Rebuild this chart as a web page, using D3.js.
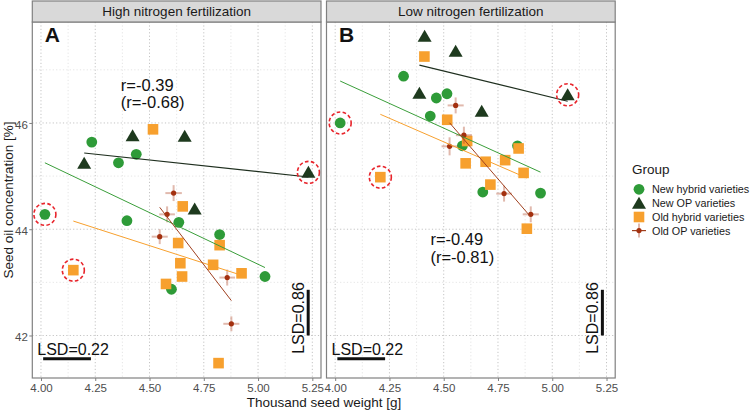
<!DOCTYPE html>
<html><head><meta charset="utf-8">
<script src="https://cdn.jsdelivr.net/npm/d3@7"></script>
<style>body{margin:0;background:#fff} svg{display:block} text{font-family:"Liberation Sans",Arial,Helvetica,sans-serif}</style>
</head><body><svg id="chart" width="752" height="412"></svg>
<script>
// ---------- data ----------
const xTicks = [4.00, 4.25, 4.50, 4.75, 5.00, 5.25];
const xMinor = [4.125, 4.375, 4.625, 4.875, 5.125];
const yTicks = [42, 44, 46];
const yMinor = [43, 45, 47];
const panelTitles = ["High nitrogen fertilization", "Low nitrogen fertilization"];
const panelLetters = ["A", "B"];
const groups = ["New hybrid varieties", "New OP varieties", "Old hybrid varieties", "Old OP varieties"];

// High nitrogen (panel A)
const highNewHybridTSW = [4.234, 4.439, 4.357, 4.018, 4.396, 4.635, 4.823, 5.032, 4.601];
const highNewHybridOil = [45.64, 45.41, 45.25, 44.28, 44.16, 44.13, 43.90, 43.11, 42.87];
const highNewOPTSW = [4.422, 4.662, 4.199, 5.232, 4.708];
const highNewOPOil = [45.76, 45.75, 45.24, 45.07, 44.38];
const highOldHybridTSW = [4.516, 4.653, 4.632, 4.823, 4.642, 4.793, 4.924, 4.650, 4.576, 4.149, 4.818];
const highOldHybridOil = [45.88, 44.43, 43.74, 43.70, 43.36, 43.33, 43.17, 43.11, 42.97, 43.23, 41.48];
const highOldOPTSW = [4.611, 4.581, 4.547, 4.858, 4.877];
const highOldOPOil = [44.68, 44.28, 43.86, 43.09, 42.22];
const highOldOPTSWErr = [0.038, 0.036, 0.037, 0.036, 0.037];
const highOldOPOilErr = [0.15, 0.15, 0.14, 0.15, 0.14];
const highOutliers = [[0, 3], [1, 3], [2, 9]]; // [group index, point index]

// Low nitrogen (panel B)
const lowNewHybridTSW = [4.023, 4.315, 4.466, 4.515, 4.438, 4.586, 4.840, 4.680, 4.946];
const lowNewHybridOil = [46.00, 46.88, 46.47, 46.55, 46.13, 45.57, 45.57, 44.70, 44.68];
const lowNewOPTSW = [4.412, 4.555, 4.388, 4.675, 5.071];
const lowNewOPOil = [47.63, 47.35, 46.56, 46.22, 46.53];
const lowOldHybridTSW = [4.411, 4.516, 4.608, 4.601, 4.693, 4.783, 4.845, 4.868, 4.715, 4.883, 4.208];
const lowOldHybridOil = [47.25, 46.06, 45.66, 45.24, 45.27, 45.30, 45.52, 45.06, 44.84, 44.01, 44.98];
const lowOldOPTSW = [4.555, 4.593, 4.527, 4.778, 4.901];
const lowOldOPOil = [46.33, 45.77, 45.56, 44.67, 44.28];
const lowOldOPTSWErr = [0.037, 0.037, 0.037, 0.036, 0.037];
const lowOldOPOilErr = [0.15, 0.16, 0.17, 0.15, 0.15];
const lowOutliers = [[0, 0], [1, 4], [2, 10]];

const rLabels = [["r=-0.39", "(r=-0.68)"], ["r=-0.49", "(r=-0.81)"]];
const lsdTSW = 0.22;
const lsdOil = 0.86;

// ---------- styles ----------
const colors = ["#2e9b38", "#1e3a1e", "#f7a02e", "#a3300f"];
const lineColors = ["#3a9e3a", "#1f2f1f", "#f7a02e", "#a0401f"];

const svg = d3.select("#chart");
svg.append("rect").attr("width", 752).attr("height", 412).attr("fill", "#fff");

const yScale = d3.scaleLinear().domain([41.2, 47.9]).range([378, 22]);
const xDomain = [3.96, 5.29];

const panels = [
  { left: 32.3, right: 321, tsw: [highNewHybridTSW, highNewOPTSW, highOldHybridTSW, highOldOPTSW],
    oil: [highNewHybridOil, highNewOPOil, highOldHybridOil, highOldOPOil],
    err: [highOldOPTSWErr, highOldOPOilErr], outliers: highOutliers, rPos: [4.368, 46.61] },
  { left: 326.5, right: 615.2, tsw: [lowNewHybridTSW, lowNewOPTSW, lowOldHybridTSW, lowOldOPTSW],
    oil: [lowNewHybridOil, lowNewOPOil, lowOldHybridOil, lowOldOPOil],
    err: [lowOldOPTSWErr, lowOldOPOilErr], outliers: lowOutliers, rPos: [4.439, 43.70] }
];

function lm(xs, ys) {
  const mx = d3.mean(xs), my = d3.mean(ys);
  let sxy = 0, sxx = 0;
  xs.forEach((x, i) => { sxy += (x - mx) * (ys[i] - my); sxx += (x - mx) * (x - mx); });
  const b = sxy / sxx;
  return { b, a: my - b * mx, x0: d3.min(xs), x1: d3.max(xs) };
}

const triPath = "M0,-6.5L7,5.5L-7,5.5Z";

function drawSymbol(g, gi, x, y) {
  if (gi === 0) g.append("circle").attr("cx", x).attr("cy", y).attr("r", 5.4).attr("fill", colors[0]);
  else if (gi === 1) g.append("path").attr("d", triPath).attr("transform", `translate(${x},${y})`).attr("fill", colors[1]);
  else if (gi === 2) g.append("rect").attr("x", x - 5.3).attr("y", y - 5.3).attr("width", 10.6).attr("height", 10.6).attr("fill", colors[2]);
}

const topY = 22, bottomY = 378;

panels.forEach((p, pi) => {
  const x = d3.scaleLinear().domain(xDomain).range([p.left, p.right]);
  const g = svg.append("g");

  // grid
  g.selectAll(".vmin").data(xMinor).join("line")
    .attr("x1", d => x(d)).attr("x2", d => x(d)).attr("y1", topY).attr("y2", bottomY)
    .attr("stroke", "#dedede").attr("stroke-width", 0.8).attr("stroke-dasharray", "1.2,2.2");
  g.selectAll(".hmin").data(yMinor).join("line")
    .attr("x1", p.left).attr("x2", p.right).attr("y1", d => yScale(d)).attr("y2", d => yScale(d))
    .attr("stroke", "#dedede").attr("stroke-width", 0.8).attr("stroke-dasharray", "1.2,2.2");
  g.selectAll(".vmaj").data(xTicks).join("line")
    .attr("x1", d => x(d)).attr("x2", d => x(d)).attr("y1", topY).attr("y2", bottomY)
    .attr("stroke", "#c4c4c4").attr("stroke-width", 1).attr("stroke-dasharray", "1.2,2.2");
  g.selectAll(".hmaj").data(yTicks).join("line")
    .attr("x1", p.left).attr("x2", p.right).attr("y1", d => yScale(d)).attr("y2", d => yScale(d))
    .attr("stroke", "#c4c4c4").attr("stroke-width", 1).attr("stroke-dasharray", "1.2,2.2");

  // points
  [0, 1, 2].forEach(gi => {
    p.tsw[gi].forEach((v, i) => drawSymbol(g, gi, x(v), yScale(p.oil[gi][i])));
  });
  // old OP with error bars
  p.tsw[3].forEach((v, i) => {
    const cx = x(v), cy = yScale(p.oil[3][i]);
    g.append("line").attr("x1", x(v - p.err[0][i])).attr("x2", x(v + p.err[0][i])).attr("y1", cy).attr("y2", cy)
      .attr("stroke", "rgba(175,70,40,0.38)").attr("stroke-width", 2);
    g.append("line").attr("x1", cx).attr("x2", cx).attr("y1", yScale(p.oil[3][i] - p.err[1][i])).attr("y2", yScale(p.oil[3][i] + p.err[1][i]))
      .attr("stroke", "rgba(175,70,40,0.38)").attr("stroke-width", 2);
    g.append("circle").attr("cx", cx).attr("cy", cy).attr("r", 2.6).attr("fill", colors[3]);
  });

  // regression lines
  [0, 1, 2, 3].forEach(gi => {
    const f = lm(p.tsw[gi], p.oil[gi]);
    g.append("line").attr("x1", x(f.x0)).attr("x2", x(f.x1))
      .attr("y1", yScale(f.a + f.b * f.x0)).attr("y2", yScale(f.a + f.b * f.x1))
      .attr("stroke", lineColors[gi]).attr("stroke-width", gi === 1 ? 1.2 : 1);
  });

  // outlier circles
  p.outliers.forEach(([gi, i]) => {
    g.append("circle").attr("cx", x(p.tsw[gi][i])).attr("cy", yScale(p.oil[gi][i])).attr("r", 11)
      .attr("fill", "none").attr("stroke", "#e8242b").attr("stroke-width", 1.6).attr("stroke-dasharray", "3.6,2.4");
  });

  // panel letter
  g.append("text").attr("x", p.left + 12.5).attr("y", 42).attr("font-size", 21).attr("font-weight", "bold")
    .attr("fill", "#111").text(panelLetters[pi]);

  // r labels
  g.append("text").attr("x", x(p.rPos[0])).attr("y", yScale(p.rPos[1])).attr("font-size", 16.5).attr("fill", "#111").text(rLabels[pi][0]);
  g.append("text").attr("x", x(p.rPos[0])).attr("y", yScale(p.rPos[1]) + 17.5).attr("font-size", 16.5).attr("fill", "#111").text(rLabels[pi][1]);

  // LSD horizontal
  const lx0 = 4.01, ly = 41.56;
  g.append("line").attr("x1", x(lx0)).attr("x2", x(lx0 + lsdTSW)).attr("y1", yScale(ly)).attr("y2", yScale(ly))
    .attr("stroke", "#111").attr("stroke-width", 3);
  g.append("text").attr("x", p.left + 5).attr("y", 355).attr("font-size", 16).attr("fill", "#111").text("LSD=" + lsdTSW.toFixed(2));
  // LSD vertical
  const vx = 5.231, vy0 = 42.0;
  g.append("line").attr("x1", x(vx)).attr("x2", x(vx)).attr("y1", yScale(vy0)).attr("y2", yScale(vy0 + lsdOil))
    .attr("stroke", "#111").attr("stroke-width", 3);
  g.append("text").attr("transform", `translate(${x(vx) - 4.5},318) rotate(-90)`).attr("text-anchor", "middle")
    .attr("font-size", 16).attr("fill", "#111").text("LSD=" + lsdOil.toFixed(2));

  // border
  g.append("rect").attr("x", p.left).attr("y", topY).attr("width", p.right - p.left).attr("height", bottomY - topY)
    .attr("fill", "none").attr("stroke", "#808080").attr("stroke-width", 1.2);
  // strip
  g.append("rect").attr("x", p.left).attr("y", 1).attr("width", p.right - p.left).attr("height", topY - 1)
    .attr("fill", "#d9d9d9").attr("stroke", "#808080").attr("stroke-width", 1.2);
  g.append("text").attr("x", (p.left + p.right) / 2).attr("y", 16).attr("text-anchor", "middle")
    .attr("font-size", 13.5).attr("fill", "#1a1a1a").text(panelTitles[pi]);

  // x axis
  const ax = g.append("g").attr("transform", `translate(0,${bottomY})`)
    .call(d3.axisBottom(x).tickValues(xTicks).tickFormat(d3.format(".2f")).tickSize(3).tickPadding(3));
  ax.select(".domain").remove();
  ax.selectAll("line").attr("stroke", "#808080");
  ax.selectAll("text").attr("font-size", 11.5).attr("fill", "#4d4d4d").attr("font-family", '"Liberation Sans",Arial,sans-serif');

  if (pi === 0) {
    const ay = g.append("g").attr("transform", `translate(${p.left},0)`)
      .call(d3.axisLeft(yScale).tickValues(yTicks).tickFormat(d3.format("d")).tickSize(3).tickPadding(1.5));
    ay.select(".domain").remove();
    ay.selectAll("line").attr("stroke", "#808080");
    ay.selectAll("text").attr("font-size", 11.5).attr("fill", "#4d4d4d").attr("dy", "0.45em").attr("font-family", '"Liberation Sans",Arial,sans-serif');
  }
});

// axis titles
svg.append("text").attr("x", 324).attr("y", 407).attr("text-anchor", "middle").attr("font-size", 13.5)
  .attr("fill", "#1a1a1a").text("Thousand seed weight [g]");
svg.append("text").attr("transform", "translate(13,200) rotate(-90)").attr("text-anchor", "middle").attr("font-size", 13.5)
  .attr("fill", "#1a1a1a").text("Seed oil concentration [%]");

// legend
const lg = svg.append("g");
lg.append("text").attr("x", 632).attr("y", 174).attr("font-size", 13.5).attr("fill", "#1a1a1a").text("Group");
const keyY = [189.3, 203.2, 217, 230.6];
groups.forEach((name, gi) => {
  const cy = keyY[gi], cx = 639;
  if (gi < 3) drawSymbol(lg, gi, cx, cy);
  else {
    lg.append("line").attr("x1", cx).attr("x2", cx).attr("y1", cy - 7).attr("y2", cy + 7)
      .attr("stroke", "rgba(175,70,40,0.38)").attr("stroke-width", 2);
    lg.append("line").attr("x1", cx - 7).attr("x2", cx + 7).attr("y1", cy).attr("y2", cy)
      .attr("stroke", lineColors[3]).attr("stroke-width", 1.2);
    lg.append("circle").attr("cx", cx).attr("cy", cy).attr("r", 2.6).attr("fill", colors[3]);
  }
  lg.append("text").attr("x", 652).attr("y", cy + 4).attr("font-size", 10.8).attr("fill", "#1a1a1a").text(name);
});
</script></body></html>
